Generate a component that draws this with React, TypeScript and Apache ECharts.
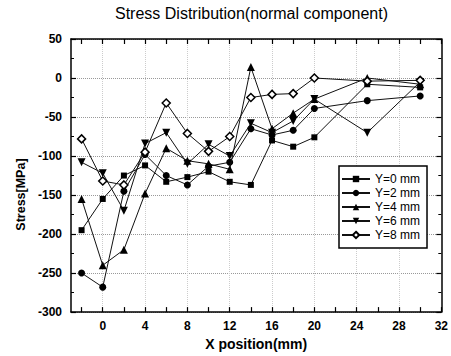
import { useEffect, useRef } from "react";
import * as echarts from "echarts";

const xPositions = [-2, 0, 2, 4, 6, 8, 10, 12, 14, 16, 18, 20, 25, 30];
const stressY0 = [-195, -155, -125, -112, -133, -127, -120, -133, -137, -80, -88, -76, -8, -12];
const stressY2 = [-250, -268, -145, -98, -125, -137, -113, -108, -65, -73, -67, -39, -29, -23];
const stressY4 = [-155, -240, -220, -148, -90, -106, -110, -117, 14, -65, -45, -27, 0, -8];
const stressY6 = [-108, -122, -170, -84, -70, -110, -85, -100, -58, -70, -55, -27, -70, -5];
const stressY8 = [-78, -132, -137, -95, -32, -71, -94, -75, -25, -21, -20, 0, -4, -3];

const seriesNames = ["Y=0 mm", "Y=2 mm", "Y=4 mm", "Y=6 mm", "Y=8 mm"];
const xLabelValues = [0, 4, 8, 12, 16, 20, 24, 28, 32];
const xTickValues = [-2, 0, 2, 4, 6, 8, 10, 12, 14, 16, 18, 20, 22, 24, 26, 28, 30, 32];
const xGridValues = [0, 4, 8, 12, 16, 20, 24, 28];

const FONT = "'Liberation Sans', Arial, sans-serif";

export default function App() {
  const ref = useRef<HTMLDivElement>(null);
  useEffect(() => {
    const chart = echarts.init(ref.current!, null, { renderer: "svg" });
    const allSeries = [stressY0, stressY2, stressY4, stressY6, stressY8];
    const symbols = [
      { symbol: "rect", size: 6, fill: "#000" },
      { symbol: "circle", size: 7, fill: "#000" },
      { symbol: "triangle", size: 8, fill: "#000" },
      { symbol: "path://M0,0 L10,0 L5,9 Z", size: 8, fill: "#000" },
      { symbol: "diamond", size: 8, fill: "#fff" },
    ];
    const axisLineStyle = { color: "#000", width: 1.5 };
    const option: any = {
      animation: false,
      backgroundColor: "#fff",
      textStyle: { fontFamily: FONT },
      title: {
        text: "Stress Distribution(normal component)",
        left: 115,
        top: 5,
        padding: 0,
        textStyle: { fontFamily: FONT, fontSize: 16, fontWeight: "normal", color: "#000" },
      },
      grid: { left: 71, right: 9, top: 39, bottom: 42, containLabel: false },
      legend: {
        orient: "vertical",
        left: 339,
        top: 166,
        padding: [6, 7, 6, 2],
        itemGap: 0,
        itemWidth: 28,
        itemHeight: 8,
        itemTextGap: 4,
        borderColor: "#000",
        borderWidth: 1.5,
        backgroundColor: "#fff",
        data: seriesNames,
        textStyle: { fontFamily: FONT, fontSize: 12, color: "#000", lineHeight: 14 },
      },
      xAxis: [
        {
          type: "value",
          position: "bottom",
          min: -3,
          max: 32,
          name: "X position(mm)",
          nameLocation: "middle",
          nameGap: 24,
          nameTextStyle: { fontFamily: FONT, fontSize: 14, fontWeight: "bold", color: "#000" },
          axisLine: { show: true, onZero: false, lineStyle: axisLineStyle },
          axisTick: { show: true, inside: true, length: 5, customValues: xTickValues, lineStyle: { color: "#000", width: 1.2 } },
          axisLabel: { show: true, customValues: xLabelValues, margin: 8, fontFamily: FONT, fontSize: 12, fontWeight: "bold", color: "#000" },
          splitLine: { show: false },
        },
        {
          type: "value",
          position: "top",
          min: -3,
          max: 32,
          axisLine: { show: true, onZero: false, lineStyle: axisLineStyle },
          axisTick: { show: true, inside: true, length: 5, customValues: xTickValues, lineStyle: { color: "#000", width: 1.2 } },
          axisLabel: { show: false },
          splitLine: { show: false },
        },
        {
          type: "value",
          position: "bottom",
          min: -3,
          max: 32,
          axisLine: { show: false },
          axisTick: { show: false, customValues: xGridValues },
          axisLabel: { show: false },
          splitLine: { show: true, lineStyle: { color: "#ccc", type: "dotted", width: 1 } },
        },
      ],
      yAxis: [
        {
          type: "value",
          position: "left",
          min: -300,
          max: 50,
          interval: 50,
          name: "Stress[MPa]",
          nameLocation: "middle",
          nameGap: 43,
          nameRotate: 90,
          nameTextStyle: { fontFamily: FONT, fontSize: 12.5, fontWeight: "bold", color: "#000", padding: [0, 38, 0, 0] },
          axisLine: { show: true, onZero: false, lineStyle: axisLineStyle },
          axisTick: { show: true, inside: true, length: 5, lineStyle: { color: "#000", width: 1.2 } },
          minorTick: { show: true, splitNumber: 2, length: 3, lineStyle: { color: "#000", width: 1 } },
          axisLabel: { margin: 9, fontFamily: FONT, fontSize: 12, fontWeight: "bold", color: "#000" },
          splitLine: { show: true, lineStyle: { color: "#999", type: "dotted", width: 1 } },
        },
        {
          type: "value",
          position: "right",
          min: -300,
          max: 50,
          interval: 50,
          axisLine: { show: true, onZero: false, lineStyle: axisLineStyle },
          axisTick: { show: true, inside: true, length: 5, lineStyle: { color: "#000", width: 1.2 } },
          minorTick: { show: true, splitNumber: 2, length: 3, lineStyle: { color: "#000", width: 1 } },
          axisLabel: { show: false },
          splitLine: { show: false },
        },
      ],
      series: allSeries.map((vals, i) => ({
        name: seriesNames[i],
        type: "line",
        xAxisIndex: 0,
        yAxisIndex: 0,
        data: xPositions.map((x, j) => [x, vals[j]]),
        symbol: symbols[i].symbol,
        symbolSize: symbols[i].size,
        showAllSymbol: true,
        lineStyle: { color: "#111", width: 1 },
        itemStyle: { color: symbols[i].fill, borderColor: "#000", borderWidth: i === 4 ? 1.5 : 0 },
        emphasis: { disabled: true },
        z: 3 + i,
      })),
    };
    chart.setOption(option);
    return () => chart.dispose();
  }, []);
  return <div ref={ref} style={{ position: "absolute", left: 0, top: 0, width: 451, height: 356 }} />;
}
